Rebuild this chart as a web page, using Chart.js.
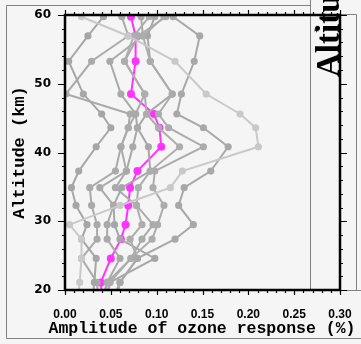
<!DOCTYPE html>
<html>
<head>
<meta charset="utf-8">
<script src="https://cdn.jsdelivr.net/npm/chart.js@4.4.0/dist/chart.umd.min.js"></script>
<style>
  html, body { margin: 0; padding: 0; background: #f5f5f5; }
  #grafica { display: block; }
</style>
</head>
<body>
<canvas id="grafica" width="361" height="344"></canvas>
<script>
// ===============================
// DATOS
// ===============================
// niveles de altitud (km); el último queda bajo el eje y se recorta
const altitudes = [59.75, 56.95, 53.27, 48.5, 45.6, 43.6, 40.84, 37.3, 34.88, 32.3, 29.5, 27.4, 24.6, 21.1, 18.6];

// perfil medio (magenta)
const perfilMedio = [0.072, 0.077, 0.077, 0.072, 0.097, 0.103, 0.105, 0.079, 0.071, 0.069, 0.066, 0.061, 0.050, 0.039, 0.041];

// perfiles individuales (gris)
const perfilA = [0.018, 0.069, 0.120, 0.154, 0.191, 0.208, 0.211, 0.128, 0.115, 0.060, 0.005, 0.018, 0.018, 0.016, 0.014];
const perfilB = [0.118, 0.147, 0.141, 0.127, 0.122, 0.151, 0.178, 0.159, 0.130, 0.124, 0.140, 0.120, 0.079, 0.060, 0.052];
const perfilC = [0.108, 0.085, 0.093, 0.117, 0.102, 0.113, 0.151, 0.098, 0.096, 0.108, 0.101, 0.095, 0.072, 0.049, 0.044];
const perfilD = [0.042, 0.025, 0.004, 0.020, 0.040, 0.050, 0.034, 0.015, 0.007, 0.012, 0.024, 0.018, 0.034, 0.032, 0.030];
const perfilE = [0.062, 0.069, 0.029, 0.001, 0.071, 0.069, 0.061, 0.055, 0.027, 0.029, 0.035, 0.035, 0.018, 0.035, 0.036];
const perfilF = [0.083, 0.085, 0.049, 0.061, 0.077, 0.079, 0.074, 0.067, 0.038, 0.053, 0.046, 0.046, 0.060, 0.046, 0.042];
const perfilG = [0.092, 0.075, 0.065, 0.087, 0.089, 0.102, 0.125, 0.093, 0.080, 0.078, 0.084, 0.071, 0.079, 0.060, 0.056];
const perfilH = [0.098, 0.090, 0.093, 0.117, 0.089, 0.079, 0.091, 0.093, 0.062, 0.053, 0.054, 0.060, 0.098, 0.049, 0.046];
const perfilI = [0.110, 0.080, 0.065, 0.087, 0.077, 0.069, 0.061, 0.067, 0.055, 0.078, 0.096, 0.084, 0.072, 0.046, 0.040];

const perfilesGrises = [perfilA, perfilB, perfilC, perfilD, perfilE, perfilF, perfilG, perfilH, perfilI];
const coloresGrises = ["#c9c9c9", "#a8a8a8", "#acacac", "#a6a6a6", "#aaaaaa", "#a9a9a9", "#adadad", "#a7a7a7", "#ababab"];

// marcas de los ejes
const ticksX = [0, 0.05, 0.10, 0.15, 0.20, 0.25, 0.30];
const ticksY = [20, 30, 40, 50, 60];
const pasoMenorX = 0.01;
const pasoMenorY = 2;

const tituloX = "Amplitude of ozone response (%)";
const tituloY = "Altitude (km)";


// ===============================
// DATASETS
// ===============================
function puntos(valores) {
  return valores.map((v, i) => ({ x: v, y: altitudes[i] }));
}

const datasets = perfilesGrises.map((p, i) => ({
  data: puntos(p),
  borderColor: coloresGrises[i],
  backgroundColor: coloresGrises[i],
  borderWidth: 2,
  pointRadius: 2.6,
  showLine: true,
  clip: 0
}));

datasets.push({
  data: puntos(perfilMedio),
  borderColor: "#ff33ff",
  backgroundColor: "#ff33ff",
  borderWidth: 2,
  pointRadius: 3,
  showLine: true,
  clip: 0
});


// ===============================
// EJES Y DECORACIÓN (plugin)
// ===============================
const marcoEjes = {
  id: "marcoEjes",
  afterDraw(chart) {
    const { ctx, chartArea: a, scales: { x, y } } = chart;
    ctx.save();

    // marco gris de la figura
    ctx.strokeStyle = "#808080";
    ctx.lineWidth = 1;
    ctx.beginPath();
    ctx.moveTo(6.5, 338.5); ctx.lineTo(6.5, 5.5); ctx.lineTo(310.5, 5.5);
    ctx.moveTo(6.5, 338.5); ctx.lineTo(361, 338.5);
    ctx.moveTo(310.5, 0); ctx.lineTo(310.5, 290.5); ctx.lineTo(361, 290.5);
    ctx.moveTo(a.right, 14.5); ctx.lineTo(356.5, 14.5); ctx.lineTo(356.5, 290.5);
    ctx.stroke();

    // marcas menores y mayores
    ctx.strokeStyle = "#000";
    ctx.lineWidth = 1.2;
    ctx.beginPath();
    for (let v = 0; v <= 0.3001; v += pasoMenorX) {
      const px = Math.round(x.getPixelForValue(v)) + 0.5;
      const mayor = ticksX.some(t => Math.abs(t - v) < 1e-6);
      ctx.moveTo(px, a.bottom); ctx.lineTo(px, a.bottom + (mayor ? 5 : 3));
      ctx.moveTo(px, a.top); ctx.lineTo(px, a.top - (mayor ? 5 : 3));
    }
    for (let v = 20; v <= 60; v += pasoMenorY) {
      const py = Math.round(y.getPixelForValue(v)) + 0.5;
      const mayor = ticksY.includes(v);
      ctx.moveTo(a.left, py); ctx.lineTo(a.left - (mayor ? 7 : 3), py);
      ctx.moveTo(a.right, py); ctx.lineTo(a.right + (mayor ? 7 : 3), py);
    }
    ctx.stroke();

    // ejes gruesos
    ctx.lineWidth = 2.5;
    ctx.strokeRect(a.left, a.top, a.right - a.left, a.bottom - a.top);

    // título del eje x (sin comprimir, sobresale del área)
    ctx.fillStyle = "#000";
    ctx.font = "bold 16.5px 'Liberation Mono'";
    ctx.textAlign = "center";
    ctx.textBaseline = "middle";
    ctx.fillText(tituloX, 202, 329);

    // título del panel vecino, cortado
    ctx.beginPath();
    ctx.rect(311, 0, a.right - 311, a.bottom);
    ctx.clip();
    ctx.font = "bold 33px 'Liberation Serif'";
    ctx.textAlign = "left";
    ctx.textBaseline = "alphabetic";
    ctx.translate(339, 77);
    ctx.rotate(-Math.PI / 2);
    ctx.fillText(tituloY, 0, 0);
    ctx.restore();

    ctx.save();
    ctx.fillStyle = "#000";
    ctx.font = "bold 9px 'DejaVu Sans'";
    ctx.fillText("*", 314, 35);
    ctx.restore();
  }
};


// ===============================
// GRÁFICA
// ===============================
const fuenteTicks = { family: "'Liberation Sans'", size: 12, weight: "bold" };
const fuenteTitulo = { family: "'Liberation Mono'", size: 17, weight: "bold" };

new Chart(document.getElementById("grafica"), {
  type: "scatter",
  data: { datasets },
  options: {
    responsive: false,
    animation: false,
    devicePixelRatio: 1,
    layout: { padding: { top: 15, right: 21, left: 0, bottom: 0 } },
    plugins: { legend: { display: false }, tooltip: { enabled: false } },
    scales: {
      x: {
        type: "linear",
        min: 0,
        max: 0.30,
        afterBuildTicks: s => { s.ticks = ticksX.map(v => ({ value: v })); },
        afterFit: s => { s.height = 54; s.paddingLeft = 0; s.paddingRight = 0; },
        grid: { display: false, drawTicks: false },
        border: { display: false },
        ticks: {
          color: "#000",
          font: fuenteTicks,
          padding: 17,
          maxRotation: 0,
          callback: v => v.toFixed(2)
        },
        title: { display: false }
      },
      y: {
        type: "linear",
        min: 20,
        max: 60,
        afterBuildTicks: s => { s.ticks = ticksY.map(v => ({ value: v })); },
        afterFit: s => { s.width = 65; s.paddingTop = 0; s.paddingBottom = 0; },
        grid: { display: false, drawTicks: false },
        border: { display: false },
        ticks: {
          color: "#000",
          font: { family: "'DejaVu Sans'", size: 12, weight: "bold" },
          padding: 14
        },
        title: {
          display: true,
          text: tituloY,
          color: "#000",
          font: fuenteTitulo,
          padding: { top: 10, bottom: 0 }
        }
      }
    }
  },
  plugins: [marcoEjes]
});
</script>
</body>
</html>
